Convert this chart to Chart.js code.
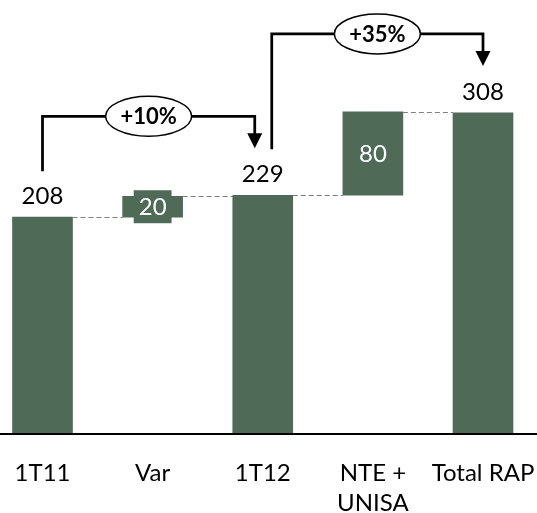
<!DOCTYPE html>
<html>
<head>
<meta charset="utf-8">
<script src="https://cdn.jsdelivr.net/npm/chart.js@4.4.1/dist/chart.umd.min.js"></script>
<style>
  html, body { margin: 0; padding: 0; background: #ffffff; }
  #wrap { width: 537px; height: 513px; position: relative; }
</style>
</head>
<body>
<div id="wrap"><canvas id="chart"></canvas></div>
<script>
// Waterfall: 1T11 -> variation -> 1T12 -> NTE + UNISA -> Total RAP
const categories = ['1T11', 'Var', '1T12', ['NTE +', 'UNISA'], 'Total RAP'];
const values = [208, 20, 229, 80, 308];
const kinds = ['total', 'delta', 'total', 'delta', 'total'];

// growth brackets drawn above the bars
const growthFrom = [0, 2];
const growthTo = [2, 4];
const growthLabels = ['+10%', '+35%'];

const GREEN = '#4F6B58';
const FONT = 'Lato, "Open Sans", sans-serif';

// floating ranges for each bar
const ranges = [];
let running = 0;
values.forEach((v, i) => {
  if (kinds[i] === 'total') { ranges.push([0, v]); running = v; }
  else { ranges.push([running, running + v]); running += v; }
});

const waterfallDecor = {
  id: 'waterfallDecor',
  afterDatasetsDraw(chart) {
    const { ctx, chartArea, scales } = chart;
    const x = scales.x, y = scales.y;
    const meta = chart.getDatasetMeta(0);
    const half = i => meta.data[i].width / 2;

    ctx.save();
    // dashed connectors between consecutive bars
    ctx.strokeStyle = '#7f7f7f';
    ctx.lineWidth = 1;
    ctx.setLineDash([5, 3]);
    for (let i = 0; i < ranges.length - 1; i++) {
      const level = Math.round(y.getPixelForValue(ranges[i][1])) + 0.5;
      ctx.beginPath();
      ctx.moveTo(x.getPixelForValue(i) + half(i), level);
      ctx.lineTo(x.getPixelForValue(i + 1) - half(i + 1), level);
      ctx.stroke();
    }
    ctx.setLineDash([]);

    // value labels
    ctx.font = '24px ' + FONT;
    ctx.textAlign = 'center';
    values.forEach((v, i) => {
      const cx = x.getPixelForValue(i);
      if (kinds[i] === 'total') {
        ctx.fillStyle = '#000000';
        ctx.textBaseline = 'alphabetic';
        ctx.fillText(String(v), cx, y.getPixelForValue(ranges[i][1]) - 13);
      } else {
        const cy = (y.getPixelForValue(ranges[i][0]) + y.getPixelForValue(ranges[i][1])) / 2;
        const tw = ctx.measureText(String(v)).width;
        ctx.fillStyle = GREEN;
        ctx.fillRect(cx - tw / 2 - 5, cy - 16.5, tw + 10, 33);
        ctx.fillStyle = '#ffffff';
        ctx.textBaseline = 'middle';
        ctx.fillText(String(v), cx, cy + 1);
      }
    });

    // growth brackets with arrows and ellipse badges
    const isStart = i => growthFrom.includes(i);
    const isEnd = i => growthTo.includes(i);
    growthFrom.forEach((a, k) => {
      const b = growthTo[k];
      const topA = y.getPixelForValue(ranges[a][1]);
      const topB = y.getPixelForValue(ranges[b][1]);
      const xa = x.getPixelForValue(a) + (isEnd(a) ? 9 : 0);
      const xb = x.getPixelForValue(b) - (isStart(b) ? 8 : 0);
      const hy = Math.min(topA, topB) - 79;
      const tipY = topB - 47;
      const headH = 15, headW = 15;

      ctx.strokeStyle = '#000000';
      ctx.lineWidth = 2.75;
      ctx.lineJoin = 'miter';
      ctx.beginPath();
      ctx.moveTo(xa, topA - 46);
      ctx.lineTo(xa, hy);
      ctx.lineTo(xb, hy);
      ctx.lineTo(xb, tipY - headH + 1);
      ctx.stroke();

      ctx.fillStyle = '#000000';
      ctx.beginPath();
      ctx.moveTo(xb - headW / 2, tipY - headH);
      ctx.lineTo(xb + headW / 2, tipY - headH);
      ctx.lineTo(xb, tipY);
      ctx.closePath();
      ctx.fill();

      const ex = (xa + xb) / 2;
      ctx.beginPath();
      ctx.ellipse(ex, hy, 43, 20, 0, 0, Math.PI * 2);
      ctx.fillStyle = '#ffffff';
      ctx.fill();
      ctx.lineWidth = 1.5;
      ctx.stroke();

      ctx.fillStyle = '#000000';
      ctx.font = 'bold 22px ' + FONT;
      ctx.textBaseline = 'middle';
      ctx.textAlign = 'center';
      ctx.fillText(growthLabels[k], ex, hy + 1);
    });

    // category axis line across the full width
    ctx.strokeStyle = '#000000';
    ctx.lineWidth = 2;
    ctx.beginPath();
    ctx.moveTo(0, chartArea.bottom);
    ctx.lineTo(chart.width, chartArea.bottom);
    ctx.stroke();
    ctx.restore();
  }
};

new Chart(document.getElementById('chart'), {
  type: 'bar',
  data: {
    labels: categories,
    datasets: [{
      data: ranges,
      backgroundColor: GREEN,
      borderWidth: 0,
      barThickness: 60,
      clip: false
    }]
  },
  options: {
    responsive: true,
    maintainAspectRatio: false,
    animation: false,
    devicePixelRatio: 1,
    layout: { padding: { top: 17, left: 42.5, right: 54, bottom: 0 } },
    plugins: { legend: { display: false }, tooltip: { enabled: false } },
    scales: {
      x: {
        offset: false,
        grid: { display: false, drawTicks: false },
        border: { display: false },
        ticks: {
          color: '#000000',
          maxRotation: 0,
          autoSkip: false,
          padding: 24,
          font: { family: FONT, size: 24, lineHeight: 1.25 }
        },
        afterFit(scale) {
          scale.height = 79;
          scale.paddingLeft = 0;
          scale.paddingRight = 0;
        }
      },
      y: {
        display: false,
        min: 0,
        max: 400
      }
    }
  },
  plugins: [waterfallDecor]
});
</script>
</body>
</html>
